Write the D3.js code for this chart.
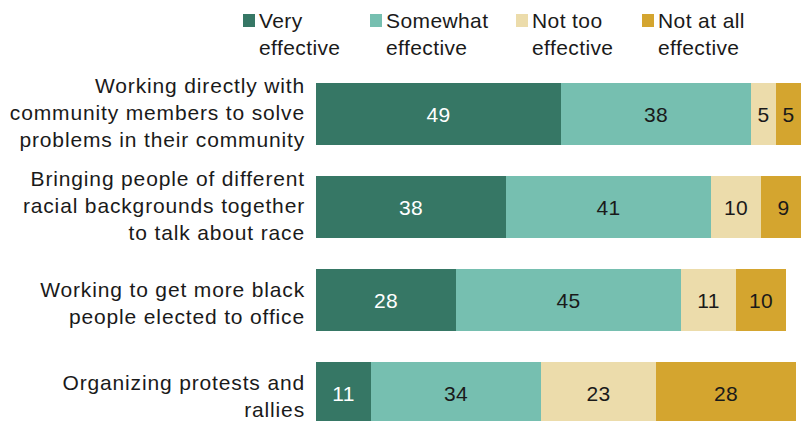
<!DOCTYPE html>
<html><head><meta charset="utf-8">
<script src="https://cdn.jsdelivr.net/npm/d3@7"></script>
<style>body{margin:0;background:#fff}svg{display:block}text{font-family:"Liberation Sans",Arial,sans-serif;letter-spacing:0.4px}</style>
</head><body><svg id="c" width="801" height="421"></svg>
<script>
const categories = [
  ["Working directly with","community members to solve","problems in their community"],
  ["Bringing people of different","racial backgrounds together","to talk about race"],
  ["Working to get more black","people elected to office"],
  ["Organizing protests and","rallies"]
];
const seriesNames = [["Very","effective"],["Somewhat","effective"],["Not too","effective"],["Not at all","effective"]];
const veryEffective = [49,38,28,11];
const somewhatEffective = [38,41,45,34];
const notTooEffective = [5,10,11,23];
const notAtAllEffective = [5,9,10,28];
const colors = ["#367765","#76bfb0","#ecdcab","#d4a52f"];
const textColors = ["#fff","#1a1a1a","#1a1a1a","#1a1a1a"];

const series = [veryEffective, somewhatEffective, notTooEffective, notAtAllEffective];
const svg = d3.select("#c");
const FS = 21;
const x = d3.scaleLinear().domain([0,100]).range([316,816]);
const y = d3.scaleBand().domain(d3.range(categories.length)).range([83,424]).paddingInner(31/93).paddingOuter(0);

categories.forEach((cat,i)=>{
  let x0 = 0;
  series.forEach((s,j)=>{
    const v = s[i];
    svg.append("rect").attr("x",x(x0)).attr("y",y(i)).attr("width",x(x0+v)-x(x0)).attr("height",y.bandwidth()).attr("fill",colors[j]);
    svg.append("text").attr("x",(x(x0)+x(x0+v))/2).attr("y",y(i)+y.bandwidth()/2+8)
      .attr("text-anchor","middle").attr("font-size",FS).attr("fill",textColors[j]).text(v);
    x0 += v;
  });
  const lh = 27;
  const cy = y(i)+y.bandwidth()/2;
  const off = cat.length===3?6:10;
  const t = svg.append("text").attr("text-anchor","end").attr("font-size",FS).attr("fill","#1a1a1a").style("letter-spacing","0.85px");
  cat.forEach((line,k)=>{
    t.append("tspan").attr("x",305).attr("y",cy-(cat.length-1)*lh/2+off+k*lh).text(line);
  });
});

const legX = [243,370,516,642];
seriesNames.forEach((n,j)=>{
  svg.append("rect").attr("x",legX[j]).attr("y",14).attr("width",12).attr("height",13).attr("fill",colors[j]);
  const t = svg.append("text").attr("font-size",FS).attr("fill","#1a1a1a");
  n.forEach((line,k)=>t.append("tspan").attr("x",legX[j]+16).attr("y",28+k*27).text(line));
});
</script></body></html>
